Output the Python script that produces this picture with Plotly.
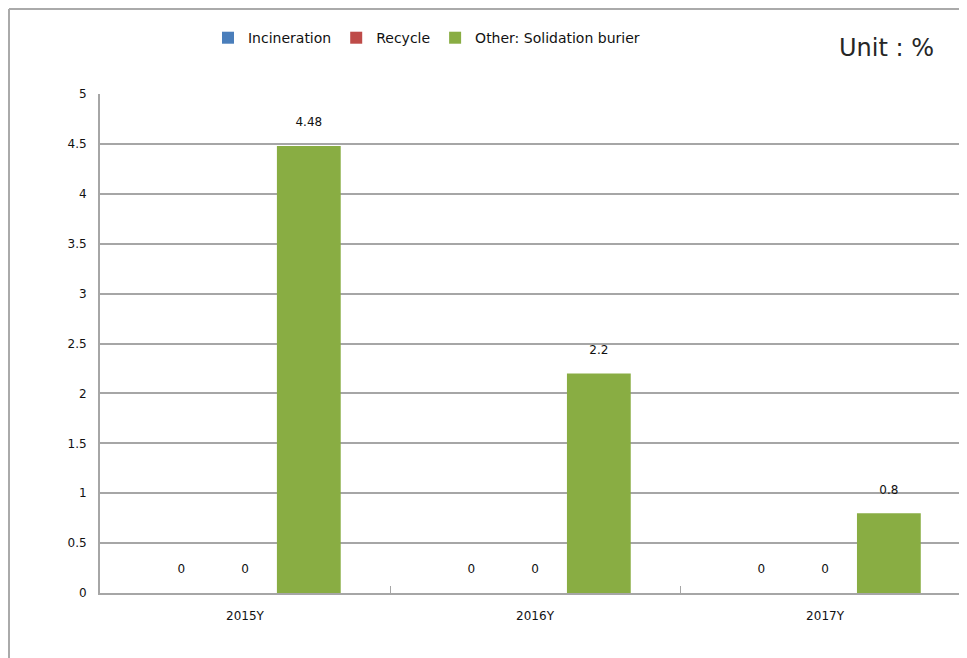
"""
Waste treatment share by year (grouped bar chart)
"""
import plotly.graph_objects as go

years = ["2015Y", "2016Y", "2017Y"]
incineration = [0, 0, 0]
recycle = [0, 0, 0]
solidation = [4.48, 2.2, 0.8]

y_ticks = [0, 0.5, 1, 1.5, 2, 2.5, 3, 3.5, 4, 4.5, 5]
y_labels = ["0", "0.5", "1", "1.5", "2", "2.5", "3", "3.5", "4", "4.5", "5"]

FONT = "DejaVu Sans"
GRID = "#a6a6a6"
TEXT = "#111111"


def bar(name, values, color):
    return go.Bar(
        x=years,
        y=values,
        name=name,
        marker=dict(color=color, line=dict(width=0)),
        text=[f"{v:g}" for v in values],
        texttemplate="%{text}<br><span style='font-size:4px'> </span>",
        textposition="outside",
        cliponaxis=False,
        textfont=dict(family=FONT, size=12, color=TEXT),
    )


fig = go.Figure()
fig.add_trace(bar("Incineration", incineration, "#4a7ebb"))
fig.add_trace(bar("Recycle", recycle, "#be4b48"))
fig.add_trace(bar("Other: Solidation burier", solidation, "#89ad43"))

fig.update_layout(
    width=967,
    height=658,
    barmode="group",
    bargap=0.34,
    bargroupgap=0,
    paper_bgcolor="white",
    plot_bgcolor="white",
    margin=dict(l=92, r=0, t=86, b=73),
    font=dict(family=FONT, size=12, color=TEXT),
    legend=dict(
        orientation="h",
        x=0.1234,
        y=1.112,
        xanchor="left",
        yanchor="middle",
        font=dict(family=FONT, size=14, color=TEXT),
        itemwidth=30,
        tracegroupgap=0,
    ),
    annotations=[
        dict(
            text="Unit : %",
            xref="paper",
            yref="paper",
            x=0.8983,
            y=1.092,
            xanchor="center",
            yanchor="middle",
            showarrow=False,
            font=dict(family=FONT, size=24, color="#262626"),
        )
    ],
    shapes=[
        # outer frame of the original chart (left and top edges)
        dict(type="line", xref="paper", yref="paper", x0=-0.104, x1=-0.104,
             y0=1.1703, y1=-0.2, line=dict(color="#aaaaaa", width=2)),
        dict(type="line", xref="paper", yref="paper", x0=-0.104, x1=1.02,
             y0=1.1703, y1=1.1703, line=dict(color="#aaaaaa", width=2)),
    ],
)

fig.update_xaxes(
    type="category",
    range=[-0.5, 2.517],
    showline=True,
    linecolor=GRID,
    linewidth=2,
    showgrid=False,
    ticks="inside",
    tickson="boundaries",
    ticklen=7,
    tickcolor=GRID,
    ticklabelstandoff=11,
    tickfont=dict(family=FONT, size=12, color=TEXT),
)
fig.update_yaxes(
    range=[0, 5],
    tickvals=y_ticks,
    ticktext=y_labels,
    showline=True,
    linecolor=GRID,
    linewidth=2,
    showgrid=True,
    gridcolor=GRID,
    gridwidth=1.5,
    zeroline=False,
    ticklabelstandoff=9,
    tickfont=dict(family=FONT, size=12, color=TEXT),
)

fig.write_html("out.html")
